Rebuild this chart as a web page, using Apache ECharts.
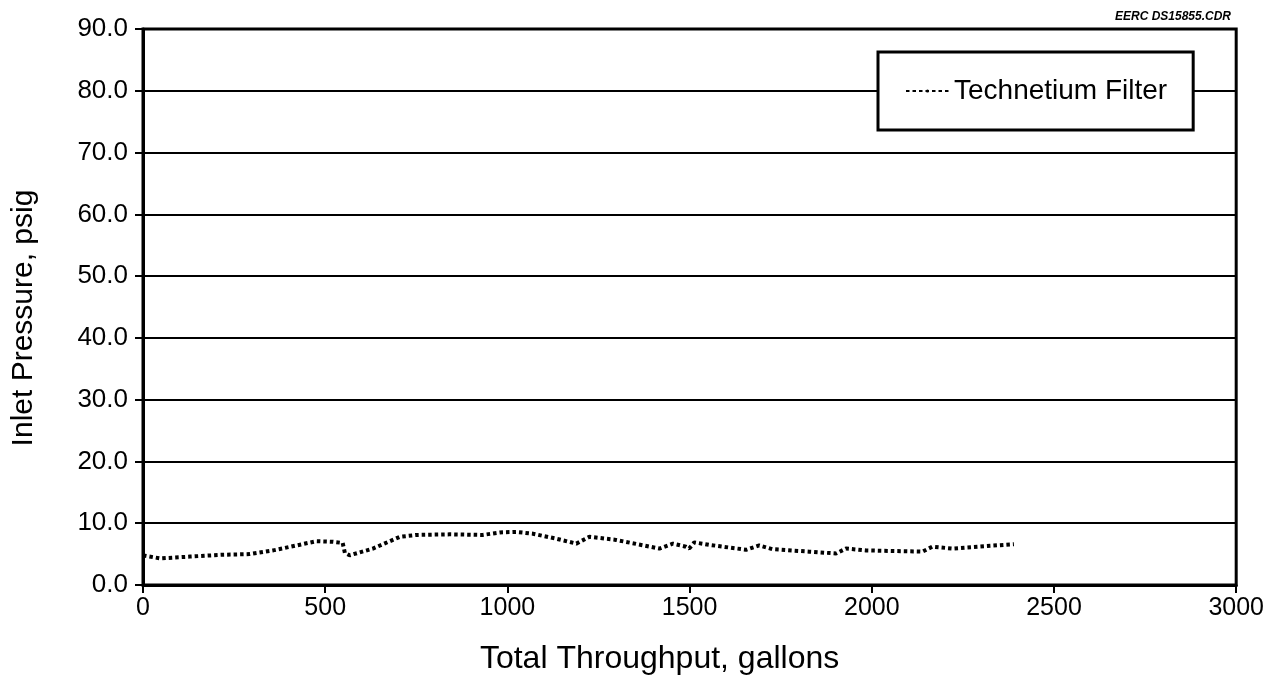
<!DOCTYPE html>
<html>
<head>
<meta charset="utf-8">
<script src="https://cdn.jsdelivr.net/npm/echarts@6/dist/echarts.min.js"></script>
<style>
  html, body { margin: 0; padding: 0; background: #fff; }
  #chart { width: 1267px; height: 681px; }
</style>
</head>
<body>
<div id="chart"></div>
<script>
// throughput (gallons) and inlet pressure (psig)
const throughput = [0, 47, 129, 219, 293, 357, 421, 476, 521, 548, 554, 567, 631, 705, 750, 841, 932, 979, 1024, 1070,
  1134, 1189, 1225, 1298, 1417, 1454, 1490, 1499, 1513, 1554, 1655, 1691, 1727, 1828, 1902, 1929, 1984, 2139, 2166,
  2221, 2313, 2390]
const pressure = [4.8, 4.3, 4.6, 4.9, 5.0, 5.6, 6.4, 7.1, 7.0, 6.8, 5.2, 4.8, 5.9, 7.8, 8.1, 8.2, 8.1, 8.5, 8.6, 8.3,
  7.5, 6.7, 7.8, 7.3, 5.9, 6.7, 6.2, 5.9, 6.9, 6.5, 5.7, 6.4, 5.8, 5.4, 5.1, 5.9, 5.6, 5.4, 6.2,
  5.9, 6.3, 6.6]
const seriesName = 'Technetium Filter'
const xTicks = [0, 500, 1000, 1500, 2000, 2500, 3000]
const yTicks = [0, 10, 20, 30, 40, 50, 60, 70, 80, 90]

const font = 'Liberation Sans'
const chart = echarts.init(document.getElementById('chart'))

const option = {
  backgroundColor: '#fff',
  animation: false,
  textStyle: { fontFamily: font, color: '#000' },
  title: {
    text: 'EERC DS15855.CDR',
    right: 31,
    top: 6,
    textStyle: { fontFamily: font, fontSize: 12, fontStyle: 'italic', fontWeight: 'bold', color: '#000' }
  },
  grid: {
    left: 143,
    right: 30,
    top: 29,
    bottom: 96,
    show: true,
    borderColor: '#000',
    borderWidth: 3
  },
  legend: {
    left: 878,
    top: 52,
    orient: 'horizontal',
    backgroundColor: '#fff',
    borderColor: '#000',
    borderWidth: 3,
    borderRadius: 0,
    padding: [25, 26, 25, 27],
    itemWidth: 43,
    itemHeight: 4,
    itemGap: 8,
    textStyle: { fontFamily: font, fontSize: 28, color: '#000' },
    data: [seriesName]
  },
  xAxis: {
    type: 'value',
    min: xTicks[0],
    max: xTicks[xTicks.length - 1],
    interval: 500,
    name: 'Total Throughput, gallons',
    nameLocation: 'middle',
    nameGap: 58,
    nameTextStyle: { fontFamily: font, fontSize: 32, color: '#000', padding: [0, 60, 0, 0] },
    axisLine: { show: true, onZero: false, lineStyle: { color: '#000', width: 3 } },
    axisTick: { show: true, length: 8, lineStyle: { color: '#000', width: 2 } },
    axisLabel: { fontFamily: font, fontSize: 25, color: '#000', margin: 11, formatter: v => String(v) },
    splitLine: { show: false }
  },
  yAxis: {
    type: 'value',
    min: yTicks[0],
    max: yTicks[yTicks.length - 1],
    interval: 10,
    name: 'Inlet Pressure, psig',
    nameLocation: 'middle',
    nameGap: 104,
    nameTextStyle: { fontFamily: font, fontSize: 30, color: '#000', padding: [0, 22, 0, 0] },
    axisLine: { show: true, lineStyle: { color: '#000', width: 3 } },
    axisTick: { show: true, length: 8, lineStyle: { color: '#000', width: 2 } },
    axisLabel: {
      fontFamily: font, fontSize: 26, color: '#000', margin: 15,
      formatter: v => v.toFixed(1)
    },
    splitLine: { show: true, lineStyle: { color: '#000', width: 2 } }
  },
  series: [{
    name: seriesName,
    type: 'line',
    symbol: 'none',
    smooth: false,
    data: throughput.map((g, i) => [g, pressure[i]]),
    lineStyle: { color: '#000', width: 4, type: [3.5, 3], cap: 'butt' },
    itemStyle: { color: '#000' }
  }]
}

chart.setOption(option)
</script>
</body>
</html>
